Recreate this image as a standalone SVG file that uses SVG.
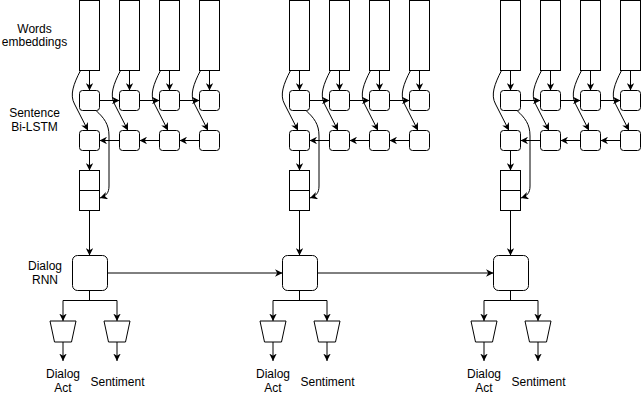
<svg xmlns="http://www.w3.org/2000/svg" width="641" height="395" viewBox="0 0 641 395">
<defs>
<marker id="arr" markerUnits="userSpaceOnUse" viewBox="0 0 10 10" refX="10" refY="5" markerWidth="7.5" markerHeight="7.5" orient="auto">
<path d="M0,0 L10,5 L0,10 L3,5 z" fill="#000"/>
</marker>
<style>
.box{fill:#fff;stroke:#000;stroke-width:1}
.edge{fill:none;stroke:#000;stroke-width:1;marker-end:url(#arr)}
.line{fill:none;stroke:#000;stroke-width:1}
text{font-family:"Liberation Sans",Arial,sans-serif;font-size:12px;fill:#000;text-anchor:middle}
</style>
</defs>
<rect width="641" height="395" fill="#fff"/>

<g id="labels">
<text x="34.5" y="32.5">Words</text>
<text x="34.5" y="46">embeddings</text>
<text x="34.5" y="117">Sentence</text>
<text x="34.5" y="131">Bi-LSTM</text>
<text x="45" y="270">Dialog</text>
<text x="45" y="283.5">RNN</text>
</g>

<g id="connectors">
<g id="conn-s1">
<path class="edge" d="M89.5,70.5V90.5"/><path class="edge" d="M129.5,70.5V90.5"/><path class="edge" d="M169.5,70.5V90.5"/><path class="edge" d="M209.5,70.5V90.5"/>
<path class="edge" d="M80.5,70.5 C73.5,84 69.5,95 74.5,104 L88,130.5"/>
<path class="edge" d="M120.5,70.5 C113.5,84 109.5,95 114.5,104 L128,130.5"/>
<path class="edge" d="M160.5,70.5 C153.5,84 149.5,95 154.5,104 L168,130.5"/>
<path class="edge" d="M200.5,70.5 C193.5,84 189.5,95 194.5,104 L208,130.5"/>
<path class="edge" d="M99.5,100.5H119.5"/><path class="edge" d="M139.5,100.5H159.5"/><path class="edge" d="M179.5,100.5H199.5"/>
<path class="edge" d="M199.5,140.5H179.5"/><path class="edge" d="M159.5,140.5H139.5"/><path class="edge" d="M119.5,140.5H99.5"/>
<path class="edge" d="M96,110.5 C104,118 109,124 109,136 L109,186 C109,193 106,196 100,198"/>
<path class="edge" d="M89.5,150.5V170.5"/>
<path class="edge" d="M89.5,210.5V255.5"/>
<path class="line" d="M89.5,290.5V300.5M63,300.5H117"/>
<path class="edge" d="M63,300.5V321"/><path class="edge" d="M117,300.5V321"/>
<path class="edge" d="M63,342V361"/><path class="edge" d="M117,342V361"/>
</g>
<g id="conn-s2" transform="translate(210,0)">
<path class="edge" d="M89.5,70.5V90.5"/><path class="edge" d="M129.5,70.5V90.5"/><path class="edge" d="M169.5,70.5V90.5"/><path class="edge" d="M209.5,70.5V90.5"/>
<path class="edge" d="M80.5,70.5 C73.5,84 69.5,95 74.5,104 L88,130.5"/>
<path class="edge" d="M120.5,70.5 C113.5,84 109.5,95 114.5,104 L128,130.5"/>
<path class="edge" d="M160.5,70.5 C153.5,84 149.5,95 154.5,104 L168,130.5"/>
<path class="edge" d="M200.5,70.5 C193.5,84 189.5,95 194.5,104 L208,130.5"/>
<path class="edge" d="M99.5,100.5H119.5"/><path class="edge" d="M139.5,100.5H159.5"/><path class="edge" d="M179.5,100.5H199.5"/>
<path class="edge" d="M199.5,140.5H179.5"/><path class="edge" d="M159.5,140.5H139.5"/><path class="edge" d="M119.5,140.5H99.5"/>
<path class="edge" d="M96,110.5 C104,118 109,124 109,136 L109,186 C109,193 106,196 100,198"/>
<path class="edge" d="M89.5,150.5V170.5"/>
<path class="edge" d="M89.5,210.5V255.5"/>
<path class="line" d="M89.5,290.5V300.5M63,300.5H117"/>
<path class="edge" d="M63,300.5V321"/><path class="edge" d="M117,300.5V321"/>
<path class="edge" d="M63,342V361"/><path class="edge" d="M117,342V361"/>
</g>
<g id="conn-s3" transform="translate(421,0)">
<path class="edge" d="M89.5,70.5V90.5"/><path class="edge" d="M129.5,70.5V90.5"/><path class="edge" d="M169.5,70.5V90.5"/><path class="edge" d="M209.5,70.5V90.5"/>
<path class="edge" d="M80.5,70.5 C73.5,84 69.5,95 74.5,104 L88,130.5"/>
<path class="edge" d="M120.5,70.5 C113.5,84 109.5,95 114.5,104 L128,130.5"/>
<path class="edge" d="M160.5,70.5 C153.5,84 149.5,95 154.5,104 L168,130.5"/>
<path class="edge" d="M200.5,70.5 C193.5,84 189.5,95 194.5,104 L208,130.5"/>
<path class="edge" d="M99.5,100.5H119.5"/><path class="edge" d="M139.5,100.5H159.5"/><path class="edge" d="M179.5,100.5H199.5"/>
<path class="edge" d="M199.5,140.5H179.5"/><path class="edge" d="M159.5,140.5H139.5"/><path class="edge" d="M119.5,140.5H99.5"/>
<path class="edge" d="M96,110.5 C104,118 109,124 109,136 L109,186 C109,193 106,196 100,198"/>
<path class="edge" d="M89.5,150.5V170.5"/>
<path class="edge" d="M89.5,210.5V255.5"/>
<path class="line" d="M89.5,290.5V300.5M63,300.5H117"/>
<path class="edge" d="M63,300.5V321"/><path class="edge" d="M117,300.5V321"/>
<path class="edge" d="M63,342V361"/><path class="edge" d="M117,342V361"/>
</g>
<path class="edge" d="M107.5,273H282.5"/>
<path class="edge" d="M317.5,273H493.5"/>
</g>

<g id="sentence1">
<g id="w1-1"><rect class="box" x="79.5" y="0.5" width="20" height="70"/></g>
<g id="w1-2"><rect class="box" x="119.5" y="0.5" width="20" height="70"/></g>
<g id="w1-3"><rect class="box" x="159.5" y="0.5" width="20" height="70"/></g>
<g id="w1-4"><rect class="box" x="199.5" y="0.5" width="20" height="70"/></g>
<g id="f1-1"><rect class="box" x="79.5" y="90.5" width="20" height="20" rx="3"/></g>
<g id="f1-2"><rect class="box" x="119.5" y="90.5" width="20" height="20" rx="3"/></g>
<g id="f1-3"><rect class="box" x="159.5" y="90.5" width="20" height="20" rx="3"/></g>
<g id="f1-4"><rect class="box" x="199.5" y="90.5" width="20" height="20" rx="3"/></g>
<g id="b1-1"><rect class="box" x="79.5" y="130.5" width="20" height="20" rx="3"/></g>
<g id="b1-2"><rect class="box" x="119.5" y="130.5" width="20" height="20" rx="3"/></g>
<g id="b1-3"><rect class="box" x="159.5" y="130.5" width="20" height="20" rx="3"/></g>
<g id="b1-4"><rect class="box" x="199.5" y="130.5" width="20" height="20" rx="3"/></g>
<g id="c1"><rect class="box" x="79.5" y="170.5" width="20" height="40"/><path class="line" d="M79.5,190.5H99.5"/></g>
<g id="rnn1"><rect class="box" x="72.5" y="255.5" width="35" height="35" rx="5"/></g>
<g id="da1"><polygon class="box" points="50,321 76,321 71.5,342 54.5,342"/></g>
<g id="se1"><polygon class="box" points="104,321 130,321 125.5,342 108.5,342"/></g>
<text x="63" y="378">Dialog</text><text x="63" y="391.5">Act</text>
<text x="117.5" y="386">Sentiment</text>
</g>

<g id="sentence2" transform="translate(210,0)">
<g id="w2-1"><rect class="box" x="79.5" y="0.5" width="20" height="70"/></g>
<g id="w2-2"><rect class="box" x="119.5" y="0.5" width="20" height="70"/></g>
<g id="w2-3"><rect class="box" x="159.5" y="0.5" width="20" height="70"/></g>
<g id="w2-4"><rect class="box" x="199.5" y="0.5" width="20" height="70"/></g>
<g id="f2-1"><rect class="box" x="79.5" y="90.5" width="20" height="20" rx="3"/></g>
<g id="f2-2"><rect class="box" x="119.5" y="90.5" width="20" height="20" rx="3"/></g>
<g id="f2-3"><rect class="box" x="159.5" y="90.5" width="20" height="20" rx="3"/></g>
<g id="f2-4"><rect class="box" x="199.5" y="90.5" width="20" height="20" rx="3"/></g>
<g id="b2-1"><rect class="box" x="79.5" y="130.5" width="20" height="20" rx="3"/></g>
<g id="b2-2"><rect class="box" x="119.5" y="130.5" width="20" height="20" rx="3"/></g>
<g id="b2-3"><rect class="box" x="159.5" y="130.5" width="20" height="20" rx="3"/></g>
<g id="b2-4"><rect class="box" x="199.5" y="130.5" width="20" height="20" rx="3"/></g>
<g id="c2"><rect class="box" x="79.5" y="170.5" width="20" height="40"/><path class="line" d="M79.5,190.5H99.5"/></g>
<g id="rnn2"><rect class="box" x="72.5" y="255.5" width="35" height="35" rx="5"/></g>
<g id="da2"><polygon class="box" points="50,321 76,321 71.5,342 54.5,342"/></g>
<g id="se2"><polygon class="box" points="104,321 130,321 125.5,342 108.5,342"/></g>
<text x="63" y="378">Dialog</text><text x="63" y="391.5">Act</text>
<text x="117.5" y="386">Sentiment</text>
</g>

<g id="sentence3" transform="translate(421,0)">
<g id="w3-1"><rect class="box" x="79.5" y="0.5" width="20" height="70"/></g>
<g id="w3-2"><rect class="box" x="119.5" y="0.5" width="20" height="70"/></g>
<g id="w3-3"><rect class="box" x="159.5" y="0.5" width="20" height="70"/></g>
<g id="w3-4"><rect class="box" x="199.5" y="0.5" width="20" height="70"/></g>
<g id="f3-1"><rect class="box" x="79.5" y="90.5" width="20" height="20" rx="3"/></g>
<g id="f3-2"><rect class="box" x="119.5" y="90.5" width="20" height="20" rx="3"/></g>
<g id="f3-3"><rect class="box" x="159.5" y="90.5" width="20" height="20" rx="3"/></g>
<g id="f3-4"><rect class="box" x="199.5" y="90.5" width="20" height="20" rx="3"/></g>
<g id="b3-1"><rect class="box" x="79.5" y="130.5" width="20" height="20" rx="3"/></g>
<g id="b3-2"><rect class="box" x="119.5" y="130.5" width="20" height="20" rx="3"/></g>
<g id="b3-3"><rect class="box" x="159.5" y="130.5" width="20" height="20" rx="3"/></g>
<g id="b3-4"><rect class="box" x="199.5" y="130.5" width="20" height="20" rx="3"/></g>
<g id="c3"><rect class="box" x="79.5" y="170.5" width="20" height="40"/><path class="line" d="M79.5,190.5H99.5"/></g>
<g id="rnn3"><rect class="box" x="72.5" y="255.5" width="35" height="35" rx="5"/></g>
<g id="da3"><polygon class="box" points="50,321 76,321 71.5,342 54.5,342"/></g>
<g id="se3"><polygon class="box" points="104,321 130,321 125.5,342 108.5,342"/></g>
<text x="63" y="378">Dialog</text><text x="63" y="391.5">Act</text>
<text x="117.5" y="386">Sentiment</text>
</g>
</svg>
